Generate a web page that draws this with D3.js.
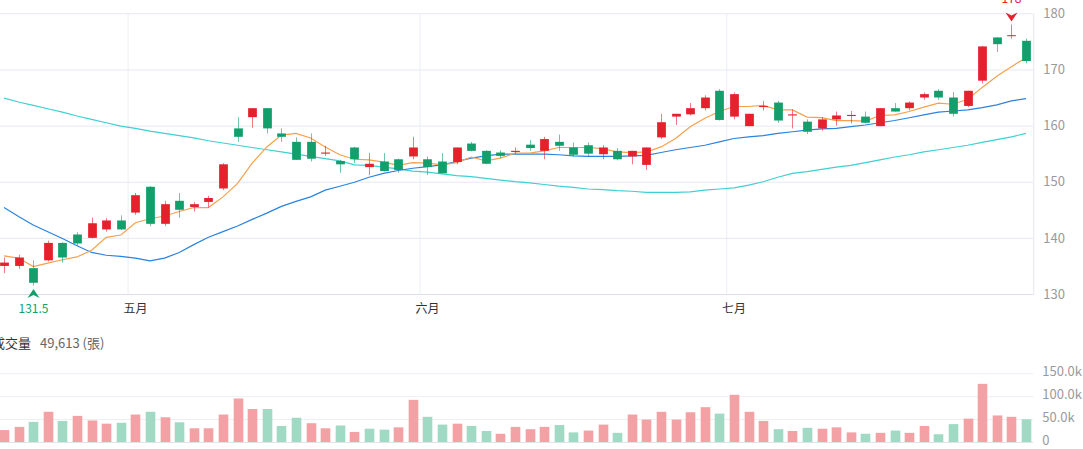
<!DOCTYPE html>
<html>
<head>
<meta charset="utf-8">
<script src="https://cdn.jsdelivr.net/npm/d3@7/dist/d3.min.js"></script>
<style>
  html, body { margin: 0; padding: 0; background: #fff; overflow: hidden; }
  svg { display: block; font-family: "Noto Sans CJK TC", "Noto Sans", sans-serif; }
</style>
</head>
<body>
<svg id="chart" width="1083" height="449"></svg>
<script>
// ---------- DATA ----------
const dates = [
  "04/18","04/19","04/22","04/23","04/24","04/25","04/26","04/29","04/30",
  "05/02","05/03","05/06","05/07","05/08","05/09","05/10","05/13","05/14","05/15",
  "05/16","05/17","05/20","05/21","05/22","05/23","05/24","05/27","05/28","05/29",
  "06/03","06/04","06/05","06/06","06/07","06/10","06/11","06/12","06/13","06/14",
  "06/17","06/18","06/19","06/20","06/21","06/24","06/25","06/26","06/27","06/28","06/29",
  "07/01","07/02","07/03","07/04","07/05","07/08","07/09","07/10","07/11","07/12",
  "07/15","07/16","07/17","07/18","07/19","07/22","07/23","07/24","07/25","07/26","07/29"
];
const open = [135.0,135.0,134.6,136.0,139.1,140.6,140.0,141.5,143.1,144.5,149.1,142.5,146.6,145.5,146.4,148.8,159.5,161.5,163.1,158.6,157.1,157.1,155.0,153.7,156.1,152.6,153.6,154.0,154.5,154.0,153.6,153.5,156.8,155.5,155.2,155.3,156.6,155.5,157.1,156.1,156.5,154.9,155.5,154.5,153.0,157.9,161.6,162.0,163.1,166.2,161.6,159.9,163.3,164.1,161.8,160.7,159.5,161.1,161.7,161.6,159.9,163.1,163.1,165.0,166.2,165.0,163.5,168.0,175.7,176.0,175.1];
const high = [136.5,137.0,136.0,139.5,139.2,141.0,143.6,143.5,144.0,148.0,149.2,146.6,148.0,146.4,147.5,153.3,161.5,163.1,163.1,159.5,157.9,158.6,156.4,153.9,156.2,155.1,155.1,154.1,158.0,154.5,155.1,156.1,157.1,155.6,155.6,156.1,157.4,158.0,158.4,157.0,157.0,156.5,156.0,155.5,156.1,162.1,162.1,164.0,165.4,166.5,165.9,162.1,164.4,164.4,162.9,161.1,161.5,162.5,162.6,162.5,163.1,164.0,164.3,165.9,166.5,166.0,166.2,174.2,175.7,178.0,175.5];
const low = [133.7,134.5,131.5,135.8,135.6,138.6,139.9,141.1,141.4,144.1,142.1,142.1,143.6,144.7,145.4,148.5,157.1,159.6,158.6,157.1,153.9,153.6,154.6,151.6,153.3,151.2,151.8,151.6,154.0,151.2,151.5,153.1,155.4,153.1,154.2,154.9,155.5,154.0,155.5,154.5,154.5,154.0,153.8,153.1,152.1,157.6,160.1,161.8,162.7,160.9,161.1,159.9,162.7,160.5,159.5,158.5,159.1,160.0,160.4,160.4,159.9,162.5,162.7,164.6,164.6,161.6,163.3,167.5,173.1,175.5,171.1];
const close = [135.6,136.5,132.0,139.1,136.5,139.0,142.6,143.1,141.5,147.6,142.5,146.0,145.0,146.0,147.1,153.1,158.0,163.1,159.5,158.0,153.9,154.1,155.2,153.1,154.0,153.2,151.9,152.1,156.1,152.6,151.5,156.1,155.5,153.2,154.6,155.5,156.0,157.6,156.4,154.8,155.0,156.1,154.0,155.5,156.1,160.6,162.1,163.1,165.0,161.0,165.6,162.1,163.5,160.9,162.0,158.9,161.1,161.8,161.9,160.5,163.1,162.5,164.1,165.6,165.0,162.1,166.2,174.1,174.5,176.1,171.5];
const volume = [26000,33000,44000,66000,46000,57000,47000,40000,42000,60000,66000,54000,43000,30000,30000,60000,95000,72000,72000,35000,53000,41000,30000,36000,22000,29000,27000,32000,92000,55000,38000,40000,35000,24000,18000,33000,28000,
  33000,37000,21000,25000,38000,20000,60000,49000,66000,49000,65000,76000,62000,103000,66000,46000,28000,24000,31000,29000,32000,21000,18000,20000,25000,20000,35000,17000,39000,51000,127000,58000,55000,49613];
// 1 = up day (red volume), 0 = down day (green volume)
const volumeUp = [1,1,0,1,0,1,1,1,0,1,0,1,0,1,1,1,1,1,0,0,0,1,1,0,1,0,0,1,1,0,0,1,0,0,1,1,1,
  1,0,0,1,1,0,1,1,1,1,1,1,0,1,1,1,0,1,0,1,1,1,0,1,0,1,1,0,0,1,1,1,1,0];
const ma5 = [136.8,136.4,134.9,135.5,136.1,136.6,137.8,140.1,140.5,142.7,143.4,143.9,144.7,145.4,145.4,147.3,149.7,153.3,156.2,158.3,158.6,157.8,156.2,154.8,154.0,153.9,153.5,152.9,153.4,153.3,153.0,153.4,154.4,153.7,154.2,155.1,155.1,155.5,156.1,156.1,156.1,155.9,155.3,155.2,155.3,156.2,157.7,159.8,161.3,162.5,163.4,163.4,163.6,162.8,162.8,161.5,161.4,160.9,160.9,160.8,161.8,161.9,162.5,163.3,164.0,163.8,164.7,166.8,168.8,170.5,172.1];
const ma20 = [145.4,143.8,142.3,141.1,139.9,138.6,137.4,136.9,136.7,136.4,135.9,136.4,137.4,138.8,140.1,141.1,142.1,143.3,144.4,145.6,146.5,147.3,148.5,149.2,149.9,150.8,151.5,152.0,152.4,152.7,153.0,153.6,154.2,154.6,154.9,154.9,154.9,154.9,154.8,154.6,154.5,154.5,154.5,154.6,154.7,155.2,155.7,156.1,156.5,157.1,157.7,158.0,158.2,158.6,158.9,159.2,159.4,159.5,159.8,160.1,160.5,160.9,161.4,161.9,162.4,162.6,162.8,163.2,163.7,164.4,164.8];
const ma60 = [164.9,164.2,163.6,163.0,162.4,161.7,161.1,160.5,159.9,159.5,159.0,158.6,158.2,157.8,157.3,156.9,156.5,156.1,155.7,155.3,154.9,154.5,154.1,153.7,153.0,152.9,152.6,152.3,151.9,151.7,151.4,151.1,150.9,150.6,150.3,150.0,149.8,149.5,149.2,149.0,148.7,148.6,148.4,148.3,148.1,148.1,148.1,148.2,148.5,148.7,148.9,149.4,150.0,150.8,151.5,151.8,152.2,152.6,152.9,153.4,153.9,154.4,154.8,155.3,155.7,156.1,156.5,157.0,157.5,158.0,158.6];
const priceTicks = [130,140,150,160,170,180];
const volumeTicks = [0,50000,100000,150000];
const monthKeys = ["05","06","07"];
const monthLabels = ["五月","六月","七月"];
const volumeTitle = "成交量";
const volumeUnit = "(張)";

// ---------- STYLE ----------
const RED = "#e5212e", GREEN = "#139f6b";
const VRED = "#f3a1a5", VGREEN = "#a0d9c4";
const GRID = "#e6e9f1";

const svg = d3.select("#chart");
const x = d3.scaleBand().domain(dates).range([-3.3, 1033.3]).padding(0);
const bw = x.bandwidth();
const cx = d => x(d) + bw / 2;
const y = d3.scaleLinear().domain([130, 180]).range([294, 13.3]);
const yv = d3.scaleLinear().domain([0, 150000]).range([442, 373.3]);

// month grid lines (price pane)
const monthStarts = monthKeys.map(m => dates.find(d => d.startsWith(m + "/")));
svg.append("g").selectAll("line").data(monthStarts).join("line")
  .attr("x1", d => x(d)).attr("x2", d => x(d))
  .attr("y1", y(180)).attr("y2", y(130))
  .attr("stroke", "#eceef4").attr("stroke-width", 1);

// price axis with grid
const pAxis = svg.append("g").attr("transform", `translate(${x.range()[1]},0)`)
  .call(d3.axisRight(y).tickValues(priceTicks).tickSizeInner(-(x.range()[1])).tickSizeOuter(0).tickPadding(10));
pAxis.select(".domain").attr("stroke", "#e3e6ed");
pAxis.selectAll(".tick line").attr("stroke", d => d === 130 ? "#dcdfe6" : GRID);
pAxis.selectAll(".tick text").attr("fill", "#9a9a9a").style("font-size", "13px")
  .style("font-family", "'Noto Sans CJK TC', sans-serif");

// volume axis with grid
const vAxis = svg.append("g").attr("transform", `translate(${x.range()[1]},0)`)
  .call(d3.axisRight(yv).tickValues(volumeTicks).tickSizeInner(-(x.range()[1])).tickSizeOuter(0).tickPadding(9)
    .tickFormat(d => d === 0 ? "0" : d3.format(".1f")(d / 1000) + "k"));
vAxis.select(".domain").remove();
vAxis.selectAll(".tick line").attr("stroke", d => d === 0 ? "#e0e3ea" : "#eceef4");
vAxis.selectAll(".tick text").attr("fill", "#9a9a9a").style("font-size", "13px")
  .style("font-family", "'Noto Sans CJK TC', sans-serif")
  .attr("dy", "0.2em");

// month labels
svg.append("g").selectAll("text").data(monthStarts).join("text")
  .attr("x", d => cx(d)).attr("y", 313)
  .attr("text-anchor", "middle").attr("fill", "#333").style("font-size", "12px")
  .text((d, i) => monthLabels[i]);

// moving averages
const lineGen = arr => d3.line().x((d, i) => cx(dates[i])).y(d => y(d))(arr);
[[ma60, "#3fd0d3"], [ma20, "#2a83df"], [ma5, "#f6a04c"]].forEach(([arr, col]) => {
  svg.append("path").attr("d", lineGen(arr)).attr("fill", "none")
    .attr("stroke", col).attr("stroke-width", 1.2);
});

// candles
const idx = d3.range(dates.length);
const cg = svg.append("g");
const bodyW = bw * 0.6;
cg.selectAll("line").data(idx).join("line")
  .attr("x1", i => Math.round(cx(dates[i])) + 0.5).attr("x2", i => Math.round(cx(dates[i])) + 0.5)
  .attr("y1", i => y(high[i])).attr("y2", i => y(low[i]))
  .attr("stroke", i => close[i] >= open[i] ? RED : GREEN).attr("stroke-opacity", 0.6).attr("stroke-width", 1);
cg.selectAll("rect").data(idx).join("rect")
  .attr("x", i => Math.round(cx(dates[i])) + 0.5 - bodyW / 2)
  .attr("width", bodyW)
  .attr("y", i => y(Math.max(open[i], close[i])))
  .attr("height", i => Math.max(1, Math.abs(y(open[i]) - y(close[i]))))
  .attr("fill", i => close[i] >= open[i] ? RED : GREEN);

// high / low markers
const hiI = d3.maxIndex(high), loI = d3.minIndex(low);
const hx = Math.round(cx(dates[hiI])) + 0.5, hy = y(high[hiI]);
svg.append("path").attr("d", `M${hx},${hy - 3} L${hx - 6},${hy - 12} L${hx},${hy - 9} L${hx + 6},${hy - 12} Z`)
  .attr("fill", RED);
svg.append("text").attr("x", hx).attr("y", hy - 22).attr("text-anchor", "middle")
  .attr("fill", RED).style("font-size", "12px").text(d3.format("~f")(high[hiI]));
const lx = Math.round(cx(dates[loI])) + 0.5, ly = y(130);
svg.append("path").attr("d", `M${lx},${ly - 5} L${lx - 6},${ly + 4} L${lx},${ly + 1} L${lx + 6},${ly + 4} Z`)
  .attr("fill", GREEN);
svg.append("text").attr("x", lx).attr("y", 313).attr("text-anchor", "middle")
  .attr("fill", GREEN).style("font-size", "12px").text(d3.format("~f")(low[loI]));

// volume title
const t = svg.append("text").attr("x", -8).attr("y", 348).style("font-size", "13px");
t.append("tspan").attr("fill", "#333").text(volumeTitle);
t.append("tspan").attr("fill", "#666").attr("dx", 9)
  .text(d3.format(",")(volume[volume.length - 1]) + " " + volumeUnit);

// volume bars
const vW = bw * 0.66;
svg.append("g").selectAll("rect").data(idx).join("rect")
  .attr("x", i => Math.round(cx(dates[i])) + 0.5 - vW / 2)
  .attr("width", vW)
  .attr("y", i => yv(volume[i]))
  .attr("height", i => yv(0) - yv(volume[i]))
  .attr("fill", i => volumeUp[i] ? VRED : VGREEN);
</script>
</body>
</html>
